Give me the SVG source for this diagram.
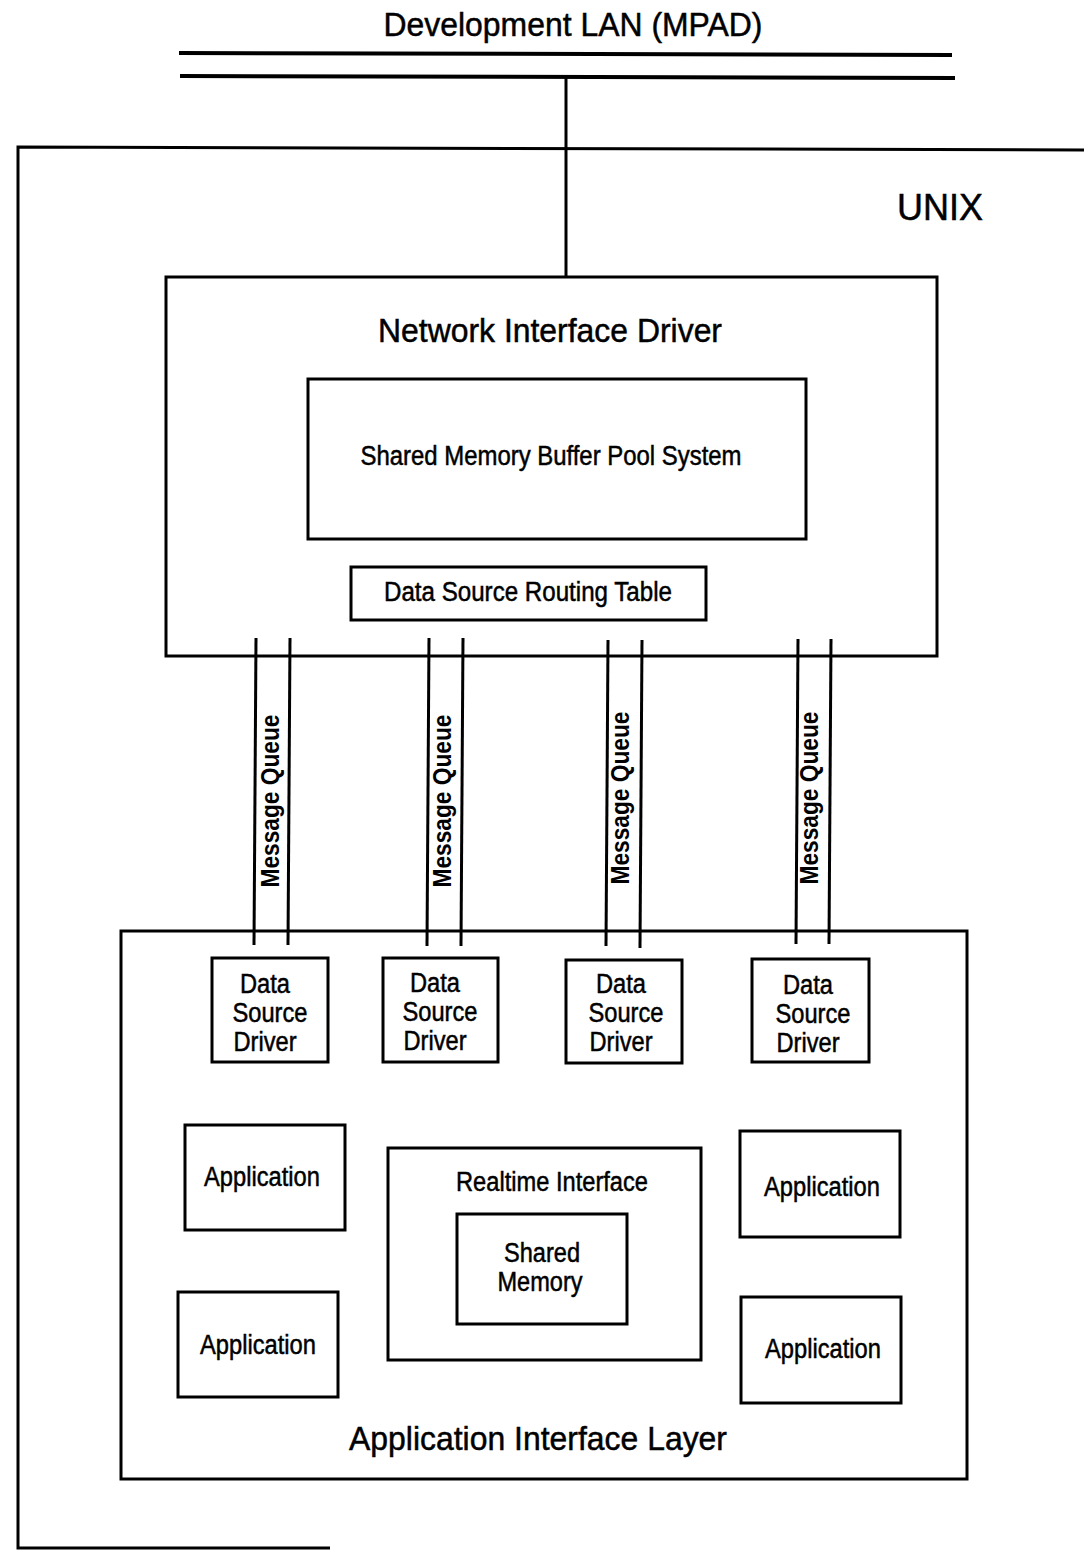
<svg xmlns="http://www.w3.org/2000/svg" width="1084" height="1552" viewBox="0 0 1084 1552">
<style>
  .box { fill: none; stroke: #000; stroke-width: 3; }
  .ln { stroke: #000; stroke-width: 3; fill: none; }
  .lan { stroke: #000; stroke-width: 4; fill: none; }
  text { font-family: "Liberation Sans", Arial, sans-serif; fill: #000; stroke: #000; stroke-width: 0.5; }
  .big { font-size: 34px; }
  .med { font-size: 27px; }
  .mq { font-size: 26px; font-weight: bold; stroke-width: 0; }
  .c { text-anchor: middle; }
</style>
<rect width="1084" height="1552" fill="#fff"/>

<g id="lan">
  <text class="big c" x="573" y="36" textLength="379" lengthAdjust="spacingAndGlyphs">Development LAN (MPAD)</text>
  <line class="lan" x1="179" y1="53" x2="952" y2="55"/>
  <line class="lan" x1="180" y1="76" x2="955" y2="78"/>
</g>

<g id="unix">
  <path class="ln" d="M1084,150 L18,147 L18,1548 L330,1548"/>
  <text x="897" y="220" style="font-size:37px" textLength="86" lengthAdjust="spacingAndGlyphs">UNIX</text>
</g>

<g id="network-interface-driver">
  <rect class="box" x="166" y="277" width="771" height="379"/>
  <text class="big c" x="550" y="342" textLength="344" lengthAdjust="spacingAndGlyphs">Network Interface Driver</text>
</g>

<g id="shared-memory-buffer-pool">
  <rect class="box" x="308" y="379" width="498" height="160"/>
  <text class="med c" x="551" y="465" textLength="381" lengthAdjust="spacingAndGlyphs">Shared Memory Buffer Pool System</text>
</g>

<g id="routing-table">
  <rect class="box" x="351" y="567" width="355" height="53"/>
  <text class="med c" x="528" y="601" textLength="288" lengthAdjust="spacingAndGlyphs">Data Source Routing Table</text>
</g>

<g id="connectors">
  <line class="ln" x1="256" y1="638" x2="254" y2="945"/>
  <line class="ln" x1="290" y1="638" x2="288" y2="945"/>
  <line class="ln" x1="429" y1="638" x2="427" y2="946"/>
  <line class="ln" x1="463" y1="638" x2="461" y2="946"/>
  <line class="ln" x1="608" y1="640" x2="606" y2="946"/>
  <line class="ln" x1="642" y1="640" x2="640" y2="948"/>
  <line class="ln" x1="798" y1="639" x2="796" y2="944"/>
  <line class="ln" x1="831" y1="639" x2="829" y2="944"/>
  <line class="ln" x1="566" y1="77" x2="566" y2="277"/>
  <text class="mq c" transform="translate(279,801) rotate(-90)" textLength="173" lengthAdjust="spacingAndGlyphs">Message Queue</text>
  <text class="mq c" transform="translate(451,801) rotate(-90)" textLength="173" lengthAdjust="spacingAndGlyphs">Message Queue</text>
  <text class="mq c" transform="translate(629,798) rotate(-90)" textLength="173" lengthAdjust="spacingAndGlyphs">Message Queue</text>
  <text class="mq c" transform="translate(818,798) rotate(-90)" textLength="173" lengthAdjust="spacingAndGlyphs">Message Queue</text>
</g>

<g id="application-interface-layer">
  <rect class="box" x="121" y="931" width="846" height="548"/>
  <text class="big c" x="538" y="1450" textLength="378" lengthAdjust="spacingAndGlyphs">Application Interface Layer</text>
</g>

<g id="dsd-1">
  <rect class="box" x="212" y="958" width="116" height="104"/>
  <text class="med c" x="265" y="993" textLength="50" lengthAdjust="spacingAndGlyphs">Data</text>
  <text class="med c" x="270" y="1022" textLength="75" lengthAdjust="spacingAndGlyphs">Source</text>
  <text class="med c" x="265" y="1051" textLength="63" lengthAdjust="spacingAndGlyphs">Driver</text>
</g>
<g id="dsd-2">
  <rect class="box" x="383" y="958" width="115" height="104"/>
  <text class="med c" x="435" y="992" textLength="50" lengthAdjust="spacingAndGlyphs">Data</text>
  <text class="med c" x="440" y="1021" textLength="75" lengthAdjust="spacingAndGlyphs">Source</text>
  <text class="med c" x="435" y="1050" textLength="63" lengthAdjust="spacingAndGlyphs">Driver</text>
</g>
<g id="dsd-3">
  <rect class="box" x="566" y="960" width="116" height="103"/>
  <text class="med c" x="621" y="993" textLength="50" lengthAdjust="spacingAndGlyphs">Data</text>
  <text class="med c" x="626" y="1022" textLength="75" lengthAdjust="spacingAndGlyphs">Source</text>
  <text class="med c" x="621" y="1051" textLength="63" lengthAdjust="spacingAndGlyphs">Driver</text>
</g>
<g id="dsd-4">
  <rect class="box" x="752" y="959" width="117" height="103"/>
  <text class="med c" x="808" y="994" textLength="50" lengthAdjust="spacingAndGlyphs">Data</text>
  <text class="med c" x="813" y="1023" textLength="75" lengthAdjust="spacingAndGlyphs">Source</text>
  <text class="med c" x="808" y="1052" textLength="63" lengthAdjust="spacingAndGlyphs">Driver</text>
</g>

<g id="app-tl">
  <rect class="box" x="185" y="1125" width="160" height="105"/>
  <text class="med c" x="262" y="1186" textLength="116" lengthAdjust="spacingAndGlyphs">Application</text>
</g>
<g id="app-bl">
  <rect class="box" x="178" y="1292" width="160" height="105"/>
  <text class="med c" x="258" y="1354" textLength="116" lengthAdjust="spacingAndGlyphs">Application</text>
</g>
<g id="app-tr">
  <rect class="box" x="740" y="1131" width="160" height="106"/>
  <text class="med c" x="822" y="1196" textLength="116" lengthAdjust="spacingAndGlyphs">Application</text>
</g>
<g id="app-br">
  <rect class="box" x="741" y="1297" width="160" height="106"/>
  <text class="med c" x="823" y="1358" textLength="116" lengthAdjust="spacingAndGlyphs">Application</text>
</g>

<g id="realtime-interface">
  <rect class="box" x="388" y="1148" width="313" height="212"/>
  <text class="med c" x="552" y="1191" textLength="192" lengthAdjust="spacingAndGlyphs">Realtime Interface</text>
</g>
<g id="shared-memory">
  <rect class="box" x="457" y="1214" width="170" height="110"/>
  <text class="med c" x="542" y="1262" textLength="76" lengthAdjust="spacingAndGlyphs">Shared</text>
  <text class="med c" x="540" y="1291" textLength="85" lengthAdjust="spacingAndGlyphs">Memory</text>
</g>
</svg>
